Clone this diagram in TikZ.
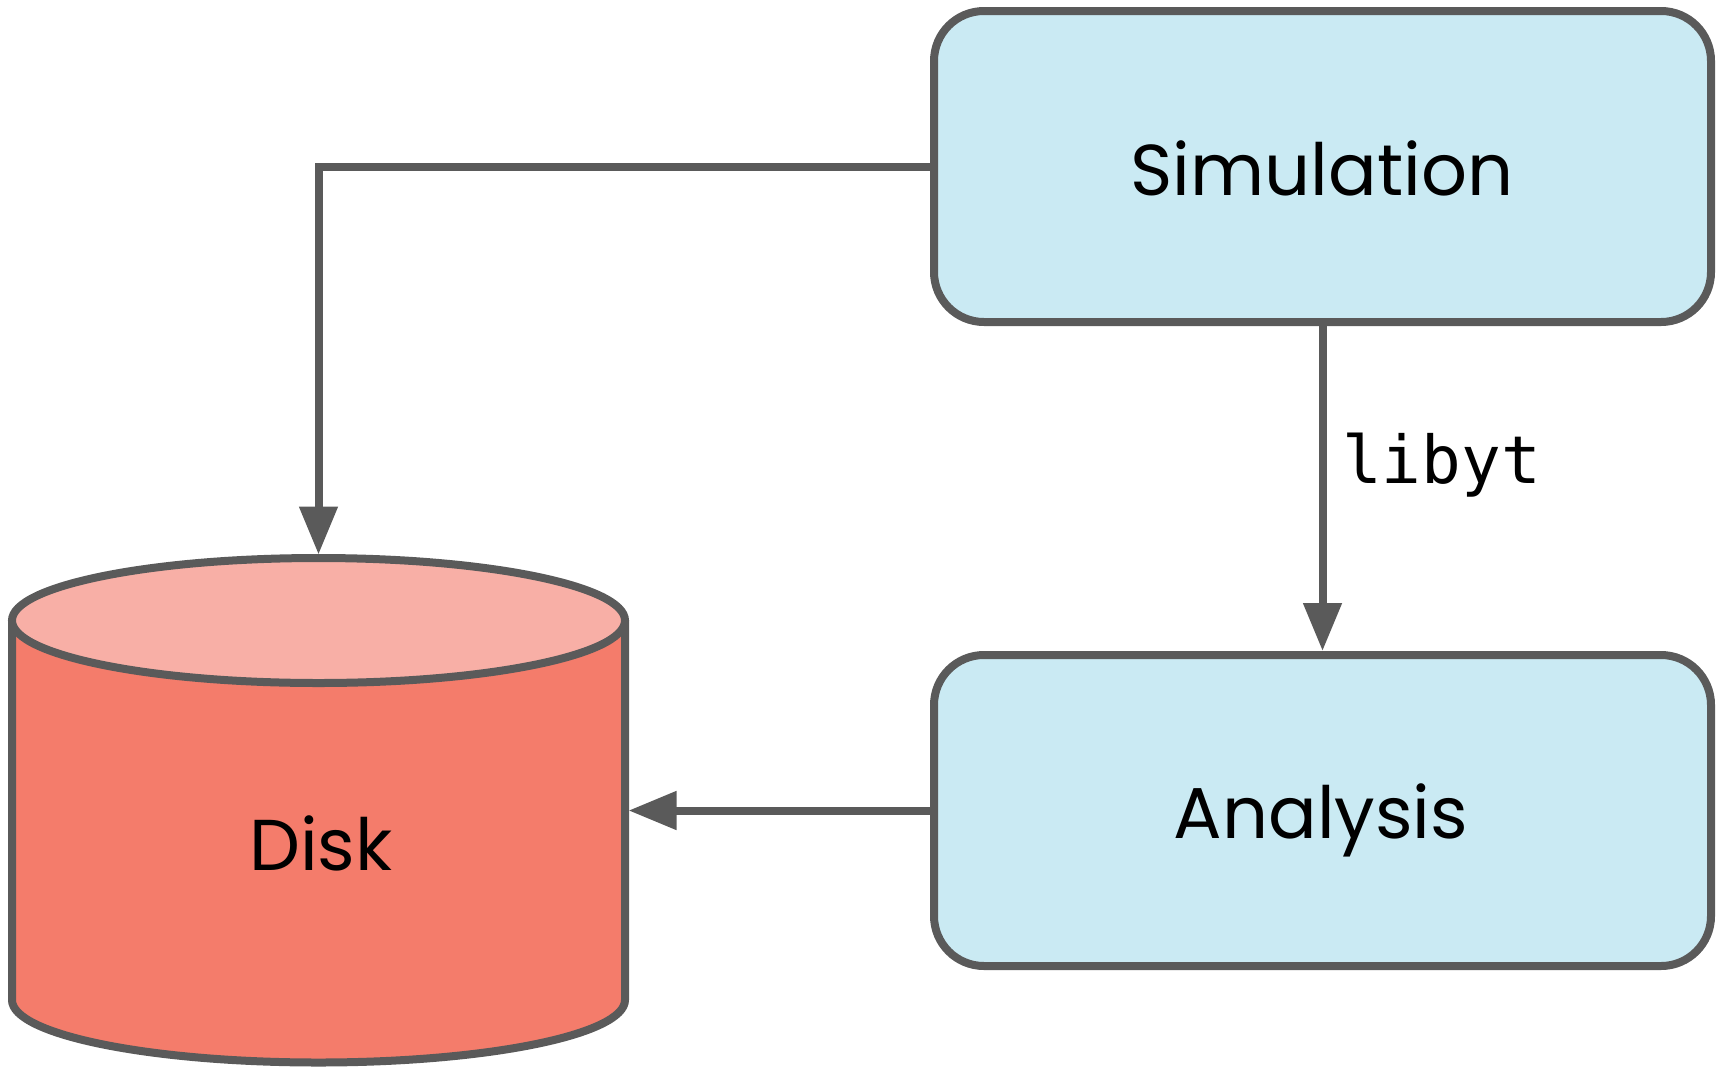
\documentclass[tikz,border=0pt]{standalone}
\usepackage{fontspec}
\setmainfont{Poppins}
\newfontfamily\codefont{DejaVu Sans Mono}
\usetikzlibrary{arrows.meta}
\definecolor{edgegray}{HTML}{5A5A5A}
\definecolor{boxblue}{HTML}{CAEAF3}
\definecolor{diskbody}{HTML}{F47C6B}
\definecolor{disktop}{HTML}{F8AFA6}
\tikzset{
  procbox/.style={draw=edgegray, fill=boxblue, line width=8pt, rounded corners=50pt,
    minimum width=777pt, minimum height=311pt, inner sep=0pt},
  lbl/.style={font=\fontsize{72}{80}\selectfont, inner sep=0pt, anchor=base},
  conn/.style={draw=edgegray, line width=8pt, -{Triangle[length=48pt,width=37pt]}},
  diskline/.style={draw=edgegray, line width=8pt}
}
\begin{document}
\begin{tikzpicture}[x=1pt, y=-1pt]
\useasboundingbox (0,0) rectangle (1723,1066);
% boxes
\node[procbox] (sim) at (1322.5,166.5) {};
\node[procbox] (ana) at (1322.5,810.5) {};
\node[lbl] (simtxt) at (1322,195) {Simulation};
\node[lbl] (anatxt) at (1321,838) {Analysis};
% disk
\fill[diskbody] (12,620.5) -- (12,1000) arc[start angle=180, end angle=0, x radius=306.5, y radius=62.5] -- (625,620.5) -- cycle;
\draw[diskline, line join=round] (12,620.5) -- (12,1000) arc[start angle=180, end angle=0, x radius=306.5, y radius=62.5] -- (625,620.5);
\draw[diskline, fill=disktop] (318.5,620.5) ellipse [x radius=306.5, y radius=62.5];
\node[lbl] (disk) at (321,870) {Disk};
\coordinate (disktopc) at (318.5,554.5);
\coordinate (diskright) at (628.5,810.5);
\coordinate (bend) at (318.5,166.5);
% connectors
\draw[conn] (sim.west) -- (bend) -- (disktopc);
\draw[conn] (sim.south) -- (ana.north);
\node[anchor=base west, inner sep=0pt, font=\codefont\fontsize{66}{70}\selectfont] (lib) at (1342,483) {libyt};
\draw[conn] (ana.west) -- (diskright);
\end{tikzpicture}
\end{document}
